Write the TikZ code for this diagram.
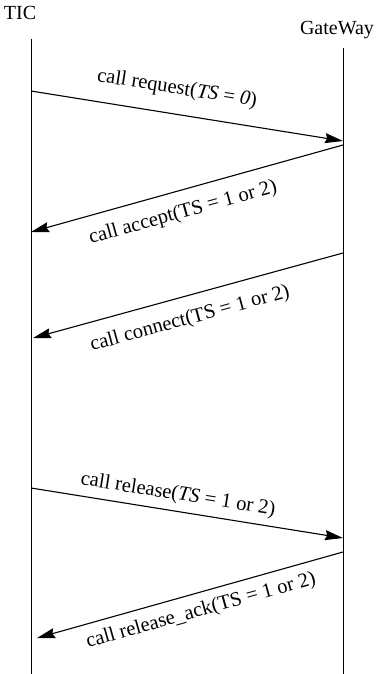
\documentclass[tikz,border=0pt]{standalone}
\usepackage{fontspec}
\setmainfont{Liberation Serif}
\usetikzlibrary{positioning,arrows.meta}
\tikzset{
  actor/.style={inner sep=0pt, font=\fontsize{20}{23}\selectfont},
  life/.style={line width=0.9pt},
  msg/.style={line width=1.1pt, -{Stealth[length=18pt,width=10pt,inset=2pt]}},
  msglabel/.style={inner sep=0pt, font=\fontsize{20.5}{23}\selectfont}
}

\begin{document}
\begin{tikzpicture}[x=1pt, y=-1pt]
  \useasboundingbox (0,0) rectangle (378,674);
  \node[actor, anchor=base] (tic) at (20,20) {TIC};
  \node[actor, anchor=base] (gw) at (337,35) {GateWay};

  % lifelines
  \coordinate (tictop) at (31,39);
  \coordinate (ticbot) at (31,674);
  \coordinate (gwtop) at (343,48);
  \coordinate (gwbot) at (343,674);
  \draw[life] (tictop) -- (ticbot);
  \draw[life] (gwtop) -- (gwbot);

  % message ends
  \coordinate (t1) at (31,91);  \coordinate (g1) at (343,141);
  \coordinate (g2) at (343,145); \coordinate (t2) at (31,232);
  \coordinate (g3) at (343,253); \coordinate (t3) at (33,338);
  \coordinate (t4) at (31,488);  \coordinate (g4) at (343,538);
  \coordinate (g5) at (343,552); \coordinate (t5) at (37,638);

  \draw[msg] (t1) -- (g1);
  \draw[msg] (g2) -- (t2);
  \draw[msg] (g3) -- (t3);
  \draw[msg] (t4) -- (g4);
  \draw[msg] (g5) -- (t5);

  \node[msglabel, rotate=-9] (req) at (177,89) {call request(\textit{TS} = \textit{0})};
  \node[msglabel, rotate=15.6] (acc) at (183,213) {call accept(TS = 1 or 2)};
  \node[msglabel, rotate=15.3] (con) at (190,319) {call connect(TS = 1 or 2)};
  \node[msglabel, rotate=-9] (rel) at (178,495) {call release(\textit{TS} = 1 or 2)};
  \node[msglabel, rotate=15.7] (ack) at (201,611) {call release\_ack(TS = 1 or 2)};
\end{tikzpicture}
\end{document}
